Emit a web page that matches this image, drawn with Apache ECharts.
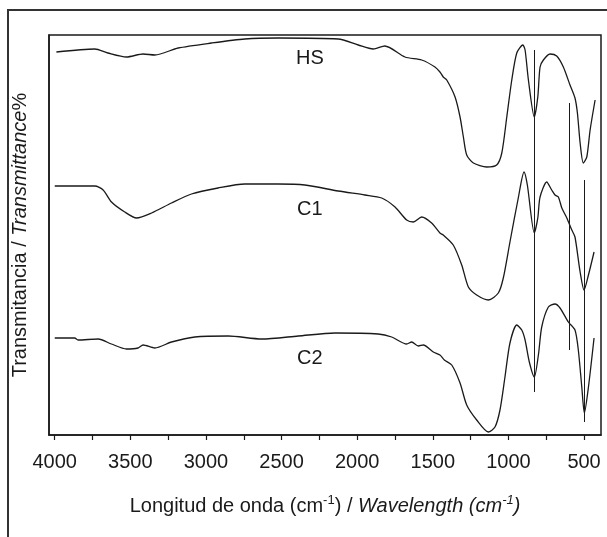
<!DOCTYPE html>
<html>
<head>
<meta charset="utf-8">
<script src="https://cdn.jsdelivr.net/npm/echarts@6/dist/echarts.min.js"></script>
<style>
  html, body { margin: 0; padding: 0; background: #fff; }
  #chart { width: 607px; height: 537px; }
</style>
</head>
<body>
<div id="chart"></div>
<script>
  // espectros FTIR, valores (unidades arbitrarias, curvas desplazadas)
  var hsWn = [3989, 3735, 3649, 3526, 3416, 3338, 3184, 2963, 2743, 2523, 2126, 1993, 1894, 1817, 1684, 1574, 1486, 1453, 1431, 1408, 1353, 1320, 1298, 1276, 1232, 1144, 1078, 1044, 1011, 978, 945, 905, 890, 868, 829, 806, 791, 769, 725, 681, 637, 593, 560, 544, 526, 505, 482, 460, 427];
  var hsT = [383, 386, 382, 378, 381, 380, 387, 392, 396, 397, 396, 390, 386, 389, 378, 375, 368, 363, 358, 355, 338, 318, 298, 280, 272, 268, 270, 282, 318, 355, 382, 390, 385, 355, 318, 338, 368, 375, 381, 379, 368, 350, 337, 322, 292, 272, 278, 305, 335];

  var c1Wn = [4000, 3735, 3680, 3625, 3537, 3459, 3360, 3228, 3096, 2920, 2743, 2523, 2346, 2126, 1949, 1838, 1750, 1673, 1629, 1574, 1508, 1453, 1431, 1365, 1309, 1265, 1210, 1133, 1067, 1034, 990, 935, 897, 875, 829, 806, 791, 747, 714, 692, 670, 647, 614, 581, 560, 526, 500, 471, 434];
  var c1T = [249, 249, 245, 233, 223, 217, 222, 232, 241, 247, 251, 251, 250, 244, 240, 237, 228, 215, 213, 218, 212, 202, 200, 190, 170, 148, 140, 135, 142, 157, 193, 237, 263, 250, 202, 217, 238, 253, 245, 240, 238, 227, 217, 205, 198, 163, 145, 160, 183];

  var c2Wn = [4000, 3868, 3846, 3713, 3625, 3526, 3449, 3416, 3338, 3228, 3074, 2853, 2632, 2390, 2147, 1861, 1772, 1673, 1640, 1596, 1563, 1497, 1453, 1424, 1375, 1320, 1276, 1210, 1133, 1089, 1056, 1023, 990, 945, 912, 890, 862, 829, 802, 780, 736, 692, 659, 604, 560, 538, 515, 498, 471, 434];
  var c2T = [97, 97, 95, 96, 91, 86, 87, 90, 87, 93, 98, 99, 96, 99, 102, 101, 98, 91, 93, 89, 90, 83, 80, 75, 70, 52, 30, 15, 3, 8, 25, 58, 92, 110, 105, 95, 73, 58, 80, 108, 128, 131, 127, 113, 105, 85, 48, 22, 48, 97];

  // lineas verticales de referencia
  var refWn = [830, 595, 500];
  var refTop = [385, 332, 255];
  var refBottom = [43, 85, 13];

  // etiquetas de las curvas
  var labelNames = ['HS', 'C1', 'C2'];
  var labelWn = [2313, 2313, 2313];
  var labelT = [377, 226, 77];

  var tickValues = [500, 750, 1000, 1250, 1500, 1750, 2000, 2250, 2500, 2750, 3000, 3250, 3500, 3750, 4000];
  var labelValues = [500, 1000, 1500, 2000, 2500, 3000, 3500, 4000];

  var FONT = 'Liberation Sans, Arial, sans-serif';
  var INK = '#1a1a1a';

  function zip(a, b) {
    return a.map(function (v, i) { return [v, b[i]]; });
  }

  function spectrum(name, wn, t) {
    return {
      name: name,
      type: 'line',
      data: zip(wn, t),
      showSymbol: false,
      smooth: 0.25,
      lineStyle: { color: INK, width: 1.3 },
      silent: true
    };
  }

  var refLines = refWn.map(function (w, i) {
    return [{ coord: [w, refBottom[i]] }, { coord: [w, refTop[i]] }];
  });

  var chart = echarts.init(document.getElementById('chart'), null, { renderer: 'canvas' });

  chart.setOption({
    animation: false,
    backgroundColor: '#fff',
    grid: {
      left: 49, right: 6, top: 35, bottom: 102,
      show: true, borderColor: INK, borderWidth: 1.5
    },
    // marco exterior (solo arriba e izquierda)
    graphic: [{
      type: 'polyline',
      shape: { points: [[8, 537], [8, 10], [607, 10]] },
      style: { stroke: '#333', lineWidth: 2, fill: null }
    }],
    xAxis: {
      type: 'value',
      inverse: true,
      min: 388,
      max: 4038,
      axisLine: { lineStyle: { color: INK, width: 1.5 } },
      axisTick: { show: true, customValues: tickValues, length: 5, lineStyle: { color: INK, width: 1.2 } },
      axisLabel: {
        customValues: labelValues, margin: 17,
        color: INK, fontSize: 20, fontFamily: FONT,
        formatter: function (v) { return String(v); }
      },
      splitLine: { show: false },
      name: 'Longitud de onda (cm{sup|-1}) / {it|Wavelength (cm}{itsup|-1}{it|)}',
      nameLocation: 'middle',
      nameGap: 59,
      nameTextStyle: {
        color: INK, fontSize: 20, fontFamily: FONT, lineHeight: 24,
        rich: {
          sup: { fontSize: 13, fontFamily: FONT, color: INK, verticalAlign: 'top', lineHeight: 24 },
          it: { fontSize: 20, fontFamily: FONT, color: INK, fontStyle: 'italic', lineHeight: 24 },
          itsup: { fontSize: 13, fontFamily: FONT, color: INK, fontStyle: 'italic', verticalAlign: 'top', lineHeight: 24 }
        }
      }
    },
    yAxis: {
      type: 'value',
      min: 0,
      max: 400,
      axisLine: { show: true, lineStyle: { color: INK, width: 1.5 } },
      axisTick: { show: false },
      axisLabel: { show: false },
      splitLine: { show: false },
      name: 'Transmitancia / {it|Transmittance}%',
      nameLocation: 'middle',
      nameGap: 19,
      nameTextStyle: {
        color: INK, fontSize: 20, fontFamily: FONT,
        rich: {
          it: { fontSize: 20, fontFamily: FONT, color: INK, fontStyle: 'italic' }
        }
      }
    },
    series: [
      spectrum('HS', hsWn, hsT),
      spectrum('C1', c1Wn, c1T),
      spectrum('C2', c2Wn, c2T),
      {
        name: 'refs',
        type: 'line',
        data: [],
        silent: true,
        markLine: {
          symbol: ['none', 'none'],
          silent: true,
          label: { show: false },
          lineStyle: { color: INK, width: 1, type: 'solid' },
          data: refLines
        }
      },
      {
        name: 'labels',
        type: 'scatter',
        symbolSize: 0,
        silent: true,
        itemStyle: { opacity: 1 },
        data: labelNames.map(function (n, i) { return [labelWn[i], labelT[i], n]; }),
        label: {
          show: true,
          position: 'inside',
          formatter: function (p) { return p.value[2]; },
          color: INK, fontSize: 20, fontFamily: FONT, opacity: 1
        }
      }
    ]
  });
</script>
</body>
</html>
